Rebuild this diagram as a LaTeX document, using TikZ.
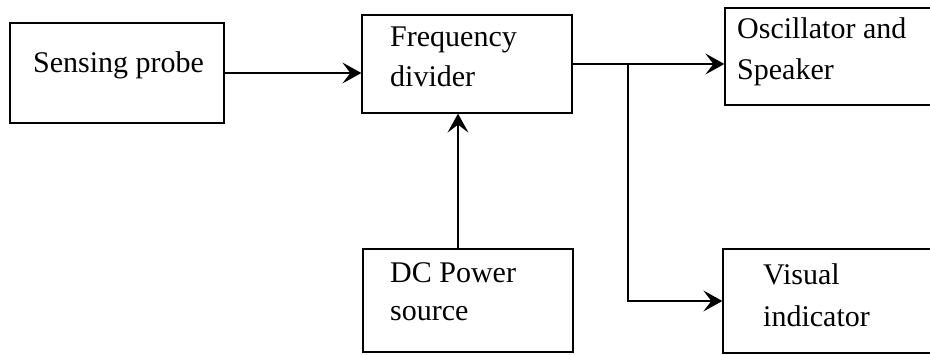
\documentclass[tikz,border=0pt]{standalone}
\usepackage{fontspec}
\setmainfont{Liberation Serif}
\usetikzlibrary{arrows.meta}
\begin{document}
\begin{tikzpicture}[x=1pt,y=-1pt,
  box/.style={draw=black, line width=1.3pt, rectangle, inner sep=0pt},
  lbl/.style={anchor=base west, inner sep=0pt, font=\fontsize{30}{34}\selectfont},
  conn/.style={draw=black, line width=1.3pt},
  arr/.style={conn, -{Stealth[length=19pt,width=21pt,inset=8pt]}}]
\useasboundingbox (0,0) rectangle (930,355);
\clip (0,0) rectangle (930,355);
% boxes
\node[box, minimum width=214pt, minimum height=100pt] (sp) at (117,73) {};
\node[box, minimum width=210pt, minimum height=98pt] (fd) at (467,64) {};
\node[box, minimum width=240pt, minimum height=97pt] (osc) at (845,56.5) {};
\node[box, minimum width=210pt, minimum height=103pt] (dc) at (468,300.5) {};
\node[box, minimum width=240pt, minimum height=104pt] (vi) at (843,301) {};
% labels
\node[lbl] (tsp) at (33,73) {Sensing probe};
\node[lbl] (tfd1) at (390,47) {Frequency};
\node[lbl] (tfd2) at (390,87) {divider};
\node[lbl] (tosc1) at (737,39) {Oscillator and};
\node[lbl] (tosc2) at (737,80) {Speaker};
\node[lbl] (tdc1) at (390,283) {DC Power};
\node[lbl] (tdc2) at (390,321) {source};
\node[lbl] (tvi1) at (763,285) {Visual};
\node[lbl] (tvi2) at (763,327) {indicator};
% connectors
\coordinate (pv) at (458,0);
\coordinate (br) at (628,64);
\draw[arr] (sp.east) -- (sp.east -| fd.west);
\draw[arr] (pv |- dc.north) -- (pv |- fd.south);
\draw[arr] (fd.east) -- (fd.east -| osc.west);
\draw[arr] (br) |- (vi.west);
\end{tikzpicture}
\end{document}
